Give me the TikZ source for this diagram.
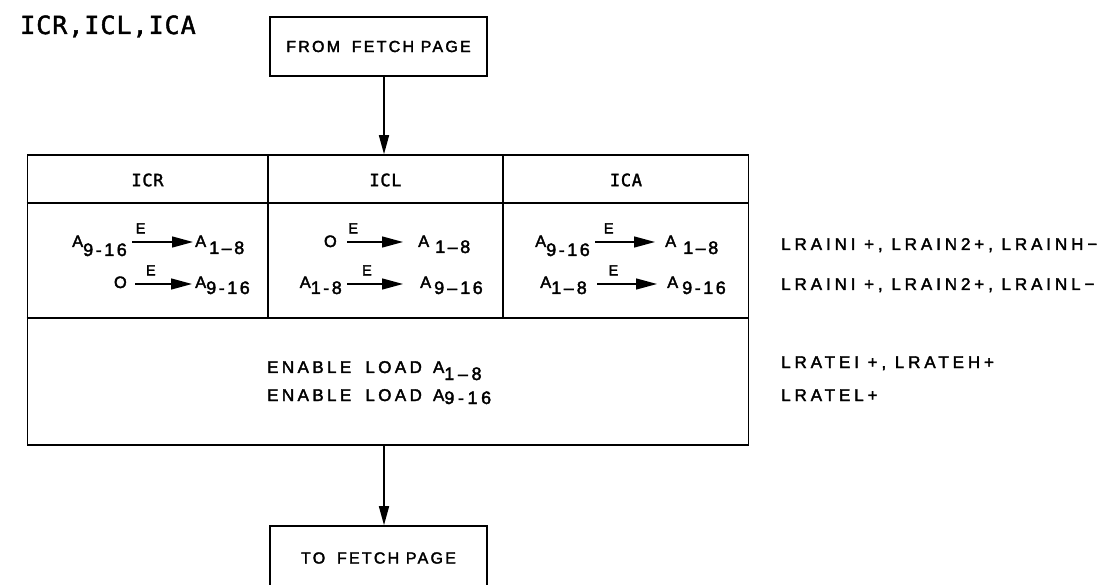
\documentclass[tikz,border=0pt]{standalone}
\usepackage{fontspec}
\setmainfont{Liberation Sans}[LetterSpace=14,FakeBold=2.2]
\newfontfamily\monof{DejaVu Sans Mono}[LetterSpace=4,FakeBold=1.8]
\newfontfamily\widef{Liberation Sans}[LetterSpace=23,FakeBold=2.2]
\newfontfamily\enf{Liberation Sans}[LetterSpace=20,FakeBold=2.2]
\usetikzlibrary{arrows.meta}
\newcommand\subsz{\fontsize{18}{20}\selectfont}
\newcommand\Asb[2][9pt]{A\raisebox{-#1}{\subsz #2}}
\newcommand\Asp[3][9pt]{A\hspace{#2}\raisebox{-#1}{\subsz #3}}
\begin{document}
\begin{tikzpicture}[x=1pt,y=-1pt,
  box/.style={draw, line width=1.6pt, minimum width=217pt, minimum height=59pt, inner sep=0pt,
              font=\fontsize{16}{18}\selectfont},
  tbl/.style={draw, line width=1.6pt, inner sep=0pt},
  rule/.style={line width=1.6pt},
  flow/.style={line width=1.6pt, -{Triangle[length=19pt,width=10pt]}},
  xfer/.style={line width=1.3pt, -{Triangle[length=21pt,width=11pt]}},
  txt/.style={inner sep=0pt, font=\fontsize{16.5}{18}\selectfont},
  etxt/.style={inner sep=0pt, anchor=base west, font=\fontsize{17}{19}\selectfont\enf},
  hdr/.style={inner sep=0pt, font=\fontsize{17}{19}\selectfont\monof},
  elab/.style={inner sep=0pt, font=\fontsize{14.5}{16}\selectfont, above=8pt},
  lbl/.style={inner sep=0pt, anchor=base west, font=\fontsize{17}{19}\selectfont\widef}]
\clip (0,0) rectangle (1114,585);
\fill[white] (0,0) rectangle (1114,585);
% title
\node[anchor=base west, inner sep=0pt, font=\fontsize{25}{27}\selectfont\monof] (title) at (20,34) {ICR,ICL,ICA};
% boxes
\node[box] (from) at (378.5,46.5) {FROM\hspace{5pt} FETCH PAGE};
\node[tbl, minimum width=721pt, minimum height=290pt] (table) at (388,300) {};
\node[box, minimum height=64pt] (to) at (378.5,558) {TO\hspace{5pt} FETCH PAGE};
\coordinate (ax) at (384,0);
\coordinate (h1) at (0,203);
\coordinate (h2) at (0,318);
\coordinate (c1) at (268,0);
\coordinate (c2) at (503,0);
\draw[flow] (from.south -| ax) -- (table.north -| ax);
\draw[flow] (table.south -| ax) -- (to.north -| ax);
\draw[rule] (table.west |- h1) -- (table.east |- h1);
\draw[rule] (table.west |- h2) -- (table.east |- h2);
\draw[rule] (c1 |- table.north) -- (c1 |- h2);
\draw[rule] (c2 |- table.north) -- (c2 |- h2);
% headers
\node[hdr] (hicr) at (147.5,180) {ICR};
\node[hdr] (hicl) at (385.5,180) {ICL};
\node[hdr] (hica) at (626,180) {ICA};
% ICR cell
\node[txt, anchor=base east] (ra1) at (127,247) {\Asb{9-16}};
\node[txt, anchor=base west] (rb1) at (195,247) {\Asp[7pt]{3pt}{1–8}};
\draw[xfer, shorten <=5pt, shorten >=2pt] ([yshift=5pt]ra1.base east) -- node[elab, pos=0.2]{E} ([yshift=5pt]rb1.base west);
\node[txt, anchor=base east] (ra2) at (127,288) {O};
\node[txt, anchor=base west] (rb2) at (195,288) {\Asb[6pt]{9-16}};
\draw[xfer, shorten <=8pt, shorten >=3pt] ([yshift=4pt]ra2.base east) -- node[elab, pos=0.35]{E} ([yshift=4pt]rb2.base west);
% ICL cell
\node[txt, anchor=base east] (la1) at (337,247) {O};
\node[txt, anchor=base west] (lb1) at (418,247) {\Asp[6pt]{6pt}{1–8}};
\draw[xfer, shorten <=10pt, shorten >=15pt] ([yshift=5pt]la1.base east) -- node[elab, pos=0.2]{E} ([yshift=5pt]lb1.base west);
\node[txt, anchor=base east] (la2) at (342,288) {\Asb[6pt]{1-8}};
\node[txt, anchor=base west] (lb2) at (420,288) {\Asp[6pt]{3pt}{9\,–\,16}};
\draw[xfer, shorten <=5pt, shorten >=17pt] ([yshift=4pt]la2.base east) -- node[elab, pos=0.32]{E} ([yshift=4pt]lb2.base west);
% ICA cell
\node[txt, anchor=base east] (aa1) at (590,247) {\Asb{9-16}};
\node[txt, anchor=base west] (ab1) at (665,247) {\Asp[7pt]{7pt}{1–8}};
\draw[xfer, shorten <=5pt, shorten >=10pt] ([yshift=5pt]aa1.base east) -- node[elab, pos=0.25]{E} ([yshift=5pt]ab1.base west);
\node[txt, anchor=base east] (aa2) at (587,288) {\Asb[6pt]{1–\,8}};
\node[txt, anchor=base west] (ab2) at (667,288) {\Asp[6pt]{4pt}{9-16}};
\draw[xfer, shorten <=10pt, shorten >=10pt] ([yshift=4pt]aa2.base east) -- node[elab, pos=0.33]{E} ([yshift=4pt]ab2.base west);
% enable
\node[etxt] (en1) at (267,373) {ENABLE\hspace{6pt} LOAD\hspace{3pt} \Asb[7pt]{1–8}};
\node[etxt] (en2) at (267,401) {ENABLE\hspace{6pt} LOAD\hspace{3pt} \Asb[3pt]{9-16}};
% right labels
\node[lbl] (s1) at (781,250) {LRAINI +, LRAIN2+, LRAINH−};
\node[lbl] (s2) at (781,290) {LRAINI +, LRAIN2+, LRAINL−};
\node[lbl] (s3) at (781,368) {LRATEI +, LRATEH+};
\node[lbl] (s4) at (781,401) {LRATEL+};
\end{tikzpicture}
\end{document}
